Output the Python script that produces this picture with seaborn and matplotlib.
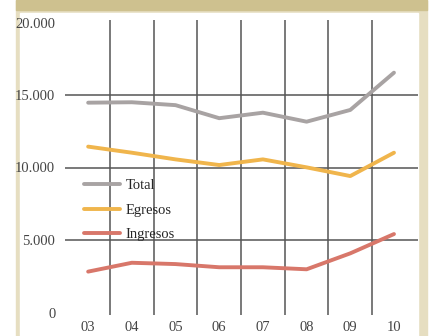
import seaborn as sns
import matplotlib.pyplot as plt
import matplotlib.patches as mpatches
import pandas as pd

years = ['03', '04', '05', '06', '07', '08', '09', '10']
total = [14470, 14500, 14300, 13400, 13780, 13160, 13970, 16540]
egresos = [11440, 11020, 10560, 10170, 10560, 10010, 9410, 11020]
ingresos = [2820, 3430, 3340, 3120, 3120, 2980, 4080, 5410]
y_ticks = [0, 5000, 10000, 15000, 20000]
y_labels = ['0', '5.000', '10.000', '15.000', '20.000']

df = pd.DataFrame({'Año': years, 'Total': total, 'Egresos': egresos, 'Ingresos': ingresos})
df_melt = df.melt(id_vars='Año', value_vars=['Total', 'Egresos', 'Ingresos'],
                  var_name='Serie', value_name='Valor')

sns.set_style("white")
plt.rcParams['font.family'] = ['Liberation Serif', 'DejaVu Serif']

fig = plt.figure(figsize=(4.32, 3.36), dpi=100)
W, H = 432, 336

# decorative frame
fig.patches.append(mpatches.Rectangle((16 / W, 0), (427 - 16) / W, 1, transform=fig.transFigure,
                                      color='#E6DEC1', zorder=-3))
fig.patches.append(mpatches.Rectangle((20 / W, 0), (418 - 20) / W, (336 - 13) / H, transform=fig.transFigure,
                                      color='white', zorder=-2))
fig.patches.append(mpatches.Rectangle((16 / W, 1 - 9.5 / H), (427 - 16) / W, 9.5 / H, transform=fig.transFigure,
                                      color='#CEC18F', zorder=-2))

ax = fig.add_axes([65 / W, (336 - 315.4) / H, 353 / W, 295.8 / H])
ax.set_facecolor('none')

palette = {'Total': '#A8A3A3', 'Egresos': '#F0B54C', 'Ingresos': '#D8776A'}
sns.lineplot(data=df_melt, x='Año', y='Valor', hue='Serie', palette=palette,
             linewidth=2.8, ax=ax, zorder=3)

ax.set_xlim(-0.53, 7.55)
ax.set_ylim(-200, 20200)
ax.set_yticks(y_ticks)
ax.set_yticklabels(y_labels)
ax.set_xticks(range(len(years)))
ax.set_xticklabels(years)
ax.set_xticks([i + 0.5 for i in range(len(years) - 1)], minor=True)

for v in y_ticks[1:-1]:
    ax.axhline(v, color='#555555', lw=1.1, zorder=1)
ax.grid(True, which='minor', axis='x', color='#555555', lw=1.1, zorder=1)
ax.grid(False, which='major')

for s in ax.spines.values():
    s.set_visible(False)
ax.tick_params(axis='both', which='both', length=0, labelsize=10.5, colors='#444444')
ax.tick_params(axis='y', pad=7)
ax.tick_params(axis='x', pad=4)
ax.set_xlabel('')
ax.set_ylabel('')

ax.legend(loc='center left', bbox_to_anchor=(84 / W, 1 - 210 / H), bbox_transform=fig.transFigure,
          frameon=False, fontsize=10.5, handlelength=2.5, handletextpad=0.35,
          labelspacing=0.8, borderpad=0, borderaxespad=0, title=None)

fig.savefig('out.png', dpi=100)
